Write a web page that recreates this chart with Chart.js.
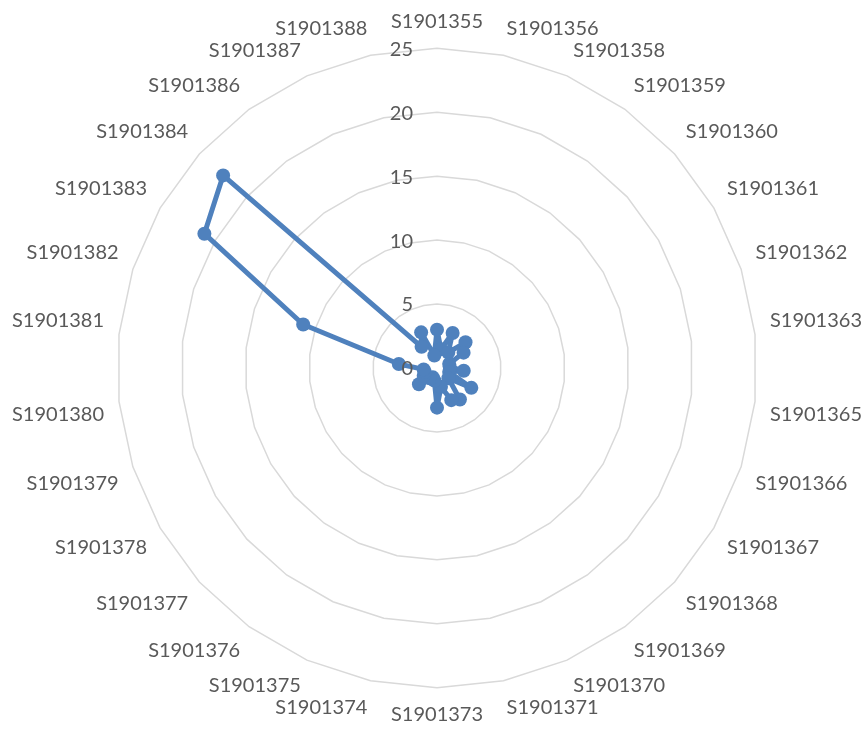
<!DOCTYPE html>
<html>
<head>
<meta charset="utf-8">
<script src="https://cdn.jsdelivr.net/npm/chart.js@4.4.0/dist/chart.umd.min.js"></script>
<style>
  html, body { margin: 0; padding: 0; background: #fff; }
  #wrap { width: 867px; height: 736px; position: relative; }
</style>
</head>
<body>
<div id="wrap"><canvas id="chart"></canvas></div>
<script>
// categories (clockwise from top)
const labels = [
  'S1901355','S1901356','S1901358','S1901359','S1901360','S1901361',
  'S1901362','S1901363','S1901365','S1901366','S1901367','S1901368',
  'S1901369','S1901370','S1901371','S1901373','S1901374','S1901375',
  'S1901376','S1901377','S1901378','S1901379','S1901380','S1901381',
  'S1901382','S1901383','S1901384','S1901386','S1901387','S1901388'
];

// values
const values = [
  3.0, 1.5, 3.0, 1.5, 3.0, 2.4,
  1.0, 1.0, 2.1, 1.0, 3.1, 1.2,
  3.05, 2.75, 1.5, 3.1, 1.0, 0.8,
  1.0, 1.9, 1.2, 1.0, 1.05, 3.0,
  11.0, 21.0, 22.5, 2.05, 3.05, 1.0
];

const tickValues = [0, 5, 10, 15, 20, 25];

const blue = '#4f81bd';
const textGray = '#595959';
const fontFamily = 'Lato, "Open Sans", sans-serif';

// Excel puts the value labels left of the vertical axis
const tickLabelPlugin = {
  id: 'tickLabels',
  afterDatasetsDraw(chart) {
    const scale = chart.scales.r;
    const ctx = chart.ctx;
    ctx.save();
    ctx.font = '20px ' + fontFamily;
    ctx.fillStyle = textGray;
    ctx.textAlign = 'right';
    ctx.textBaseline = 'middle';
    tickValues.forEach(v => {
      const d = scale.getDistanceFromCenterForValue(v);
      ctx.fillText(String(v), scale.xCenter - 24, scale.yCenter - d + 1);
    });
    ctx.restore();
  }
};

const chart = new Chart(document.getElementById('chart'), {
  type: 'radar',
  data: {
    labels: labels,
    datasets: [{
      data: values,
      borderColor: blue,
      backgroundColor: blue,
      borderWidth: 5,
      borderJoinStyle: 'round',
      borderCapStyle: 'round',
      pointRadius: 7,
      pointBackgroundColor: blue,
      pointBorderColor: blue,
      pointBorderWidth: 0,
      fill: false,
      tension: 0
    }]
  },
  options: {
    responsive: true,
    maintainAspectRatio: false,
    animation: false,
    layout: { padding: { top: 0, bottom: 0, left: 12, right: 4 } },
    plugins: {
      legend: { display: false },
      tooltip: { enabled: false }
    },
    scales: {
      r: {
        min: 0,
        max: 25,
        ticks: { display: false, stepSize: 5 },
        angleLines: { display: false },
        grid: { color: '#d9d9d9', lineWidth: 1.5, circular: false },
        pointLabels: {
          color: textGray,
          padding: 15,
          font: { family: fontFamily, size: 20 }
        }
      }
    }
  },
  plugins: [tickLabelPlugin]
});
</script>
</body>
</html>
